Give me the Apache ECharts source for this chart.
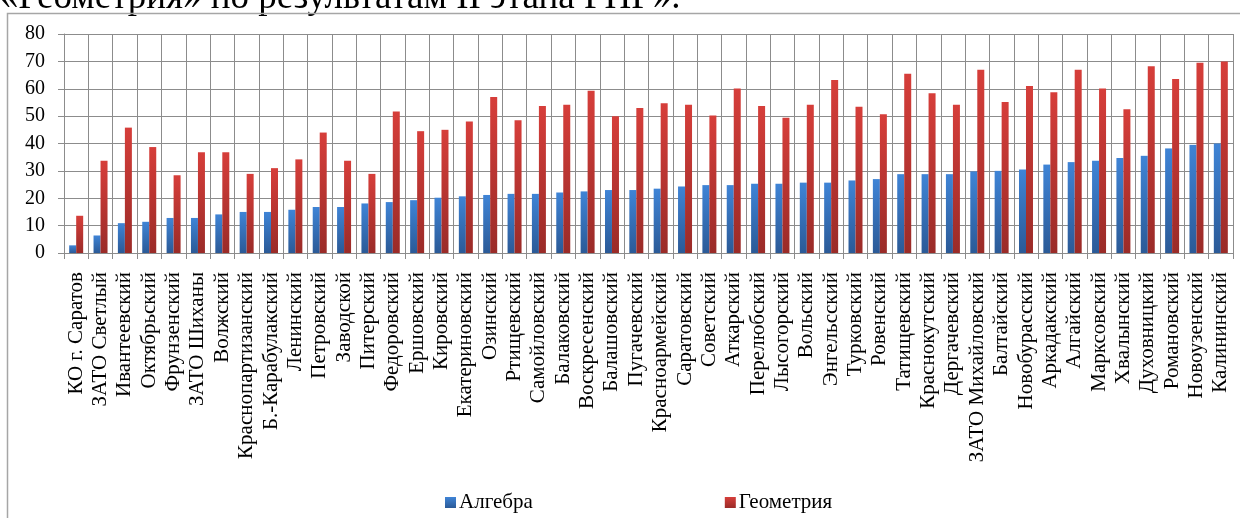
<!DOCTYPE html>
<html>
<head>
<meta charset="utf-8">
<script src="https://cdn.jsdelivr.net/npm/echarts@6/dist/echarts.min.js"></script>
<style>
  html, body { margin: 0; padding: 0; background: #fff; }
  #container { width: 1240px; height: 518px; }
</style>
</head>
<body>
<div id="container"></div>
<script>
const rayones = [
  "КО г. Саратов", "ЗАТО Светлый", "Ивантеевский", "Октябрьский", "Фрунзенский",
  "ЗАТО Шиханы", "Волжский", "Краснопартизанский", "Б.-Карабулакский", "Ленинский",
  "Петровский", "Заводской", "Питерский", "Федоровский", "Ершовский",
  "Кировский", "Екатериновский", "Озинский", "Ртищевский", "Самойловский",
  "Балаковский", "Воскресенский", "Балашовский", "Пугачевский", "Красноармейский",
  "Саратовский", "Советский", "Аткарский", "Перелюбский", "Лысогорский",
  "Вольский", "Энгельсский", "Турковский", "Ровенский", "Татищевский",
  "Краснокутский", "Дергачевский", "ЗАТО Михайловский", "Балтайский", "Новобурасский",
  "Аркадакский", "Алгайский", "Марксовский", "Хвалынский", "Духовницкий",
  "Романовский", "Новоузенский", "Калининский"
];

const algebra = [
  2.8, 6.4, 10.9, 11.4, 12.8, 12.8, 14.1, 15.0, 15.0, 15.8,
  16.8, 16.8, 18.1, 18.6, 19.3, 20.2, 20.7, 21.2, 21.6, 21.6,
  22.1, 22.5, 23.0, 23.0, 23.5, 24.3, 24.8, 24.8, 25.3, 25.3,
  25.7, 25.7, 26.5, 27.0, 28.8, 28.8, 28.8, 29.8, 30.0, 30.5,
  32.3, 33.2, 33.7, 34.7, 35.5, 38.2, 39.5, 40.0
];

const geometria = [
  13.6, 33.7, 45.8, 38.7, 28.4, 36.8, 36.8, 28.9, 31.0, 34.2,
  44.0, 33.7, 28.9, 51.7, 44.5, 45.0, 48.0, 57.0, 48.5, 53.7,
  54.2, 59.3, 50.0, 53.0, 54.7, 54.2, 50.2, 60.1, 53.7, 49.4,
  54.2, 63.2, 53.4, 50.7, 65.5, 58.4, 54.2, 66.9, 55.2, 61.0,
  58.7, 66.9, 60.1, 52.5, 68.2, 63.6, 69.5, 70.0
];

const serie1 = "Алгебра";
const serie2 = "Геометрия";
const titulo = "«Геометрия» по результатам II этапа РПР».";

const fuente = "'Liberation Serif', 'DejaVu Serif', serif";

function degradado(arriba, abajo) {
  return new echarts.graphic.LinearGradient(0, 0, 0, 1, [
    { offset: 0, color: arriba },
    { offset: 1, color: abajo }
  ]);
}

let dom = document.getElementById("container");
let myChart = echarts.init(dom, null, {
  renderer: "canvas",
  useDirtyRect: false
});

let option = {
  animation: false,
  backgroundColor: "#fff",
  graphic: [
    {
      type: "text",
      x: 0,
      y: 17,
      style: {
        text: titulo,
        font: "37px " + fuente,
        fill: "#000",
        verticalAlign: "bottom"
      }
    },
    {
      type: "rect",
      shape: { x: 7.5, y: 13.5, width: 1300, height: 600 },
      style: { fill: null, stroke: "#a6a6a6", lineWidth: 1.5 },
      silent: true
    }
  ],
  legend: {
    left: 440,
    top: 487,
    itemWidth: 11,
    itemHeight: 11,
    itemGap: 192,
    icon: "rect",
    textStyle: { fontFamily: fuente, fontSize: 21, color: "#000", padding: [0, 0, 0, -2] },
    data: [serie1, serie2]
  },
  grid: {
    left: 64,
    right: 7,
    top: 34,
    bottom: 265,
    containLabel: false
  },
  xAxis: {
    type: "category",
    data: rayones,
    boundaryGap: true,
    axisLine: { show: true, lineStyle: { color: "#8c8c8c", width: 1 } },
    axisTick: { show: true, length: 6, lineStyle: { color: "#8c8c8c" } },
    splitLine: { show: true, lineStyle: { color: "#8c8c8c", width: 1 } },
    axisLabel: {
      interval: 0,
      rotate: 90,
      margin: 19,
      fontFamily: fuente,
      fontSize: 21,
      color: "#000"
    }
  },
  yAxis: {
    type: "value",
    min: 0,
    max: 80,
    interval: 10,
    axisLine: { show: true, lineStyle: { color: "#8c8c8c" } },
    axisTick: { show: true, length: 6, lineStyle: { color: "#8c8c8c" } },
    splitLine: { show: true, lineStyle: { color: "#8c8c8c", width: 1 } },
    axisLabel: {
      margin: 19,
      fontFamily: fuente,
      fontSize: 20,
      color: "#000"
    }
  },
  series: [
    {
      name: serie1,
      type: "bar",
      data: algebra,
      barWidth: 7,
      barGap: "0%",
      itemStyle: { color: degradado("#3f84d6", "#2b5a97") }
    },
    {
      name: serie2,
      type: "bar",
      data: geometria,
      barWidth: 7,
      barGap: "0%",
      itemStyle: { color: degradado("#d63e3a", "#9a2b28") }
    }
  ]
};

if (option && typeof option === "object") {
  myChart.setOption(option);
}

window.addEventListener("resize", myChart.resize);
</script>
</body>
</html>
